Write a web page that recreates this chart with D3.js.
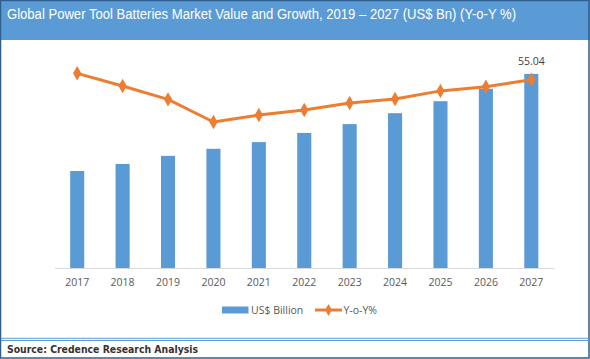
<!DOCTYPE html>
<html>
<head>
<meta charset="utf-8">
<script src="https://cdn.jsdelivr.net/npm/d3@7"></script>
<style>
  body { margin: 0; background: #fff; }
  svg { display: block; }
</style>
</head>
<body>
<div id="chart"></div>
<script>
const years = ["2017", "2018", "2019", "2020", "2021", "2022", "2023", "2024", "2025", "2026", "2027"];
const usdBillion = [27.5, 29.5, 31.8, 33.8, 35.7, 38.3, 40.8, 43.9, 47.3, 50.8, 55.04];
const yoyPercent = [9.2, 8.6, 7.97, 6.9, 7.23, 7.47, 7.8, 7.99, 8.37, 8.57, 8.9];
const titleText = "Global Power Tool Batteries Market Value and Growth, 2019 \u2013 2027 (US$ Bn) (Y-o-Y %)";
const sourceText = "Source: Credence Research Analysis";
const legendLabels = ["US$ Billion", "Y-o-Y%"];

const width = 590, height = 359;
const plot = { left: 54.5, right: 554, top: 56.4, bottom: 268 };
const blue = "#5b9bd5", orange = "#ed7d31";

const svg = d3.select("#chart").append("svg").attr("width", width).attr("height", height);

// header band
svg.append("rect").attr("x", 0).attr("y", 0).attr("width", width).attr("height", 40).attr("fill", blue);
svg.append("text").attr("x", 7).attr("y", 18.5)
  .attr("font-family", "Liberation Sans, Arial, sans-serif").attr("font-size", 14)
  .attr("textLength", 509).attr("lengthAdjust", "spacingAndGlyphs")
  .attr("fill", "#fff").text(titleText);

// outer frame
svg.append("rect").attr("x", 0.5).attr("y", 0.5).attr("width", width - 1.5).attr("height", height - 1.5)
  .attr("fill", "none").attr("stroke", "#2f5f8f").attr("stroke-width", 1.5);

const xScale = d3.scaleBand().domain(years).range([plot.left, plot.right]).paddingInner(0.69).paddingOuter(0.345);
const yScale = d3.scaleLinear().domain([0, 60]).range([plot.bottom, plot.top]);
const y2Scale = d3.scaleLinear().domain([0, 10]).range([plot.bottom, plot.top]);

const chart = svg.append("g");

chart.selectAll(".bar")
  .data(usdBillion)
  .enter()
  .append("rect")
  .attr("class", "bar")
  .attr("x", (d, i) => xScale(years[i]))
  .attr("y", d => yScale(d))
  .attr("width", xScale.bandwidth())
  .attr("height", d => plot.bottom - yScale(d))
  .attr("fill", blue);

const xAxis = d3.axisBottom(xScale).tickSize(0).tickPadding(11);
const gx = chart.append("g").attr("transform", `translate(0,${plot.bottom})`).call(xAxis);
gx.select(".domain").attr("stroke", "#d9d9d9").attr("stroke-width", 1.2);
gx.selectAll("text").attr("font-family", "Open Sans, sans-serif").attr("font-size", 10.5).attr("fill", "#595959");

// data label on last bar
chart.append("text")
  .attr("x", xScale(years[10]) + xScale.bandwidth() / 2)
  .attr("y", yScale(usdBillion[10]) - 9)
  .attr("text-anchor", "middle")
  .attr("font-family", "Open Sans, sans-serif").attr("font-size", 10.5).attr("fill", "#404040")
  .text(usdBillion[10].toFixed(2));

const cx = i => xScale(years[i]) + xScale.bandwidth() / 2;
const line = d3.line().x((d, i) => cx(i)).y(d => y2Scale(d));
chart.append("path").datum(yoyPercent).attr("d", line)
  .attr("fill", "none").attr("stroke", orange).attr("stroke-width", 3).attr("stroke-linejoin", "round");

const diamond = d3.symbol().type(d3.symbolDiamond).size(60);
chart.selectAll(".pt")
  .data(yoyPercent)
  .enter()
  .append("path")
  .attr("class", "pt")
  .attr("d", diamond)
  .attr("transform", (d, i) => `translate(${cx(i)},${y2Scale(d)})`)
  .attr("fill", orange);

// legend
const legend = svg.append("g").attr("font-family", "Open Sans, sans-serif").attr("font-size", 10.5).attr("fill", "#595959");
legend.append("rect").attr("x", 222).attr("y", 306.5).attr("width", 26.5).attr("height", 7).attr("fill", blue);
legend.append("text").attr("x", 251).attr("y", 314).text(legendLabels[0]);
legend.append("line").attr("x1", 315).attr("x2", 342).attr("y1", 310).attr("y2", 310)
  .attr("stroke", orange).attr("stroke-width", 3);
legend.append("path").attr("d", d3.symbol().type(d3.symbolDiamond).size(40))
  .attr("transform", "translate(328.5,310)").attr("fill", orange);
legend.append("text").attr("x", 343.5).attr("y", 314).text(legendLabels[1]);

// footer lines and source
svg.append("line").attr("x1", 1).attr("x2", width - 1).attr("y1", 338.3).attr("y2", 338.3).attr("stroke", blue).attr("stroke-width", 1);
svg.append("line").attr("x1", 1).attr("x2", width - 1).attr("y1", 340.5).attr("y2", 340.5).attr("stroke", blue).attr("stroke-width", 1);
svg.append("text").attr("x", 7).attr("y", 353)
  .attr("font-family", "DejaVu Sans, Verdana, sans-serif").attr("font-weight", "bold").attr("font-size", 10)
  .attr("textLength", 191).attr("lengthAdjust", "spacingAndGlyphs")
  .attr("fill", "#333").text(sourceText);
</script>
</body>
</html>
